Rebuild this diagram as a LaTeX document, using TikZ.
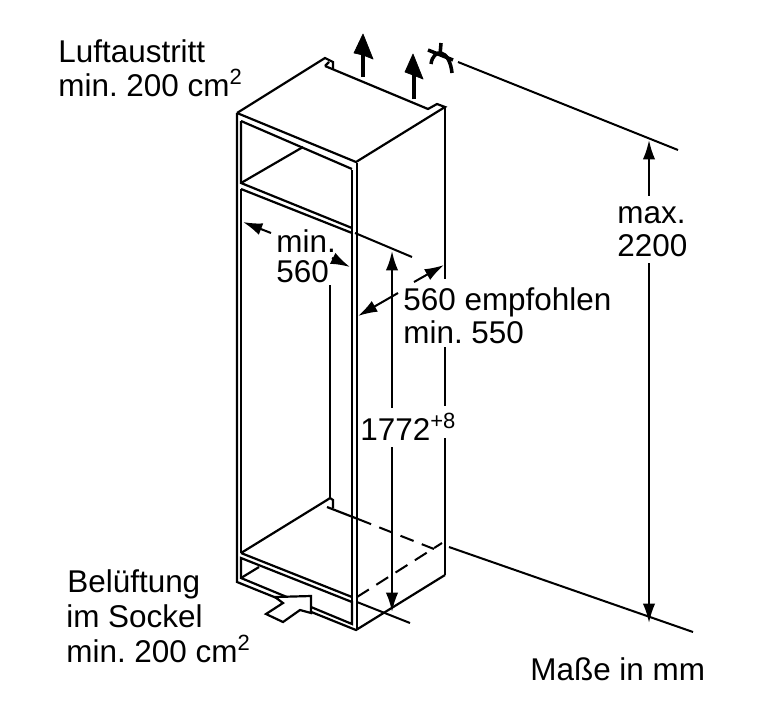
\documentclass[tikz,border=0pt]{standalone}
\usepackage{fontspec}
\setmainfont{Liberation Sans}
\usetikzlibrary{arrows.meta}
\tikzset{>={Latex[length=11pt,width=7pt]}}
\tikzset{
  edge/.style={line width=1.25pt, line join=miter},
  dimline/.style={line width=1.15pt},
  dashline/.style={line width=1.15pt, dash pattern=on 8pt off 5pt},
  airshaft/.style={line width=2.1pt},
  airhead/.style={fill=black, draw=black, line width=0.4pt, line join=round},
  symbol/.style={line width=2pt},
  caption/.style={anchor=base west, inner sep=0pt, font=\fontsize{17.9pt}{20pt}\selectfont\frenchspacing}
}
\begin{document}
\begin{tikzpicture}[x=0.02cm, y=-0.02cm]
  \useasboundingbox (0,0) rectangle (759,727);

  % housing corners
  \coordinate (topleft) at (237,113);
  \coordinate (topfront) at (356,162);
  \coordinate (topright) at (445,107);
  \coordinate (topback) at (325,58);
  \coordinate (botleft) at (237,582);
  \coordinate (botfront) at (356,630);
  \coordinate (botright) at (445,575);

  \draw[edge] (topleft) -- (topfront) -- (topright) -- (437,104) -- (428,109) -- (325,66);
  \draw[edge] (topleft) -- (topback) -- (333,62) -- (333,69);
  \draw[edge] (325,66) -- (329,62);
  \draw[edge] (topleft) -- (botleft) -- (botfront) -- (botright);
  \draw[edge] (topright) -- (445,279);
  \draw[edge] (445,347) -- (445,406);
  \draw[edge] (445,438) -- (botright);
  \draw[edge] (352,170) -- (352,602);
  \draw[edge] (357,163) -- (357,630);

  % upper niche
  \draw[edge] (241,121) -- (352,169);
  \draw[edge] (241,121) -- (241,183) -- (352,228);
  \draw[edge] (241,183) -- (303,147);
  \draw[edge] (241,189) -- (352,233);
  \draw[edge] (241,189) -- (241,553);

  % floor and plinth
  \draw[edge] (241,553) -- (327,500) -- (330,498) -- (333,500) -- (333,508);
  \draw[edge] (241,553) -- (352,597);
  \draw[edge] (241,558) -- (352,602) -- (352,624) -- (241,578) -- cycle;
  \draw[edge] (241,578) -- (259,567);
  \draw[edge] (330,285) -- (330,498);
  \draw[edge] (327,507) -- (358,519);
  \draw[dashline] (358,519) -- (434,549);
  \draw[dashline] (357,597) -- (442,543);

  % air inlet arrow
  \draw[edge, fill=white] (266,614) -- (283,603) -- (275,597) -- (311,596) -- %%
  (311,613) -- (300,610) -- (283,622) -- cycle;

  % air outlet arrows
  \draw[airshaft] (363,77) -- (363,50);
  \draw[airhead] (363,34) -- (373,59) -- (363,55) -- (354,53) -- cycle;
  \draw[airshaft] (414,99) -- (414,70);
  \draw[airhead] (413,54) -- (423,79) -- (413,75) -- (405,72) -- cycle;

  % niche height symbol
  \draw[symbol] (441,43) -- (440,55);
  \draw[symbol] (428,50) -- (453,60);
  \draw[symbol] (431,64) .. controls (432,56) and (437,52) .. (441,53) %%
  .. controls (447,54) and (451,63) .. (452,73);

  % dimension lines
  \draw[dimline] (458,62) -- (678,150);
  \draw[dimline] (449,547) -- (693,632);
  \draw[dimline] (355,233) -- (412,257);
  \draw[dimline] (357,602) -- (410,623);
  \draw[dimline, <-] (649,140) -- (649,196);
  \draw[dimline, ->] (649,263) -- (649,623);
  \draw[dimline, <-] (392,251) -- (392,408);
  \draw[dimline, ->] (392,447) -- (392,612);
  \draw[dimline, <-] (243,222) -- (271,233);
  \draw[dimline, ->] (332,258) -- (350,267);
  \draw[dimline, ->] (414,282) -- (444,265);
  \draw[dimline, ->] (398,293) -- (358,316);

  \node[caption] (outlet1) at (58,62) {Luftaustritt};
  \node[caption] (outlet2) at (58,96) {min. 200 cm\textsuperscript{2}};
  \node[caption] (maxa) at (617,223) {max.};
  \node[caption] (maxb) at (617,256) {2200};
  \node[caption] (widtha) at (276,252) {min.};
  \node[caption] (widthb) at (276,282) {560};
  \node[caption] (deptha) at (403,310) {560 empfohlen};
  \node[caption] (depthb) at (403,343) {min. 550};
  \node[caption] (height) at (360,440) {1772\textsuperscript{+8}};
  \node[caption] (inlet1) at (67,592) {Belüftung};
  \node[caption] (inlet2) at (66,627) {im Sockel};
  \node[caption] (inlet3) at (66,662) {min. 200 cm\textsuperscript{2}};
  \node[caption] (units) at (530,680) {Maße in mm};
\end{tikzpicture}
\end{document}
